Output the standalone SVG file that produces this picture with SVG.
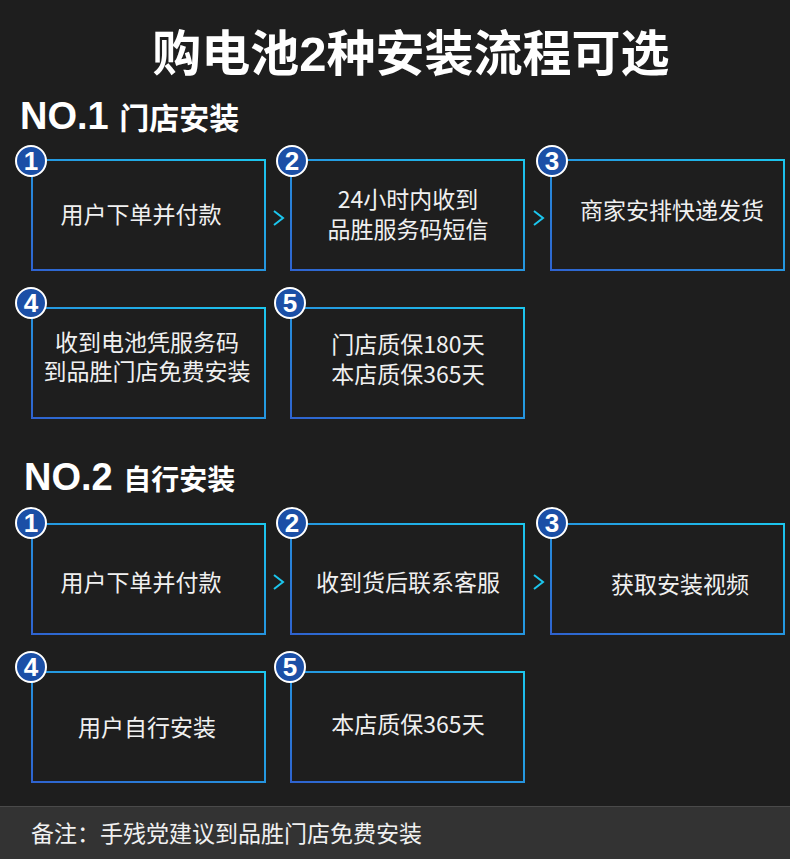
<svg xmlns="http://www.w3.org/2000/svg" width="790" height="859" viewBox="0 0 790 859">
<defs>
<linearGradient id="bd" x1="0" y1="1" x2="1" y2="0">
<stop offset="0" stop-color="#2f63d0"/>
<stop offset="1" stop-color="#1cc6ee"/>
</linearGradient>
<style>
.box{fill:none;stroke:url(#bd);stroke-width:2}
.badge{fill:#1b4fa6;stroke:#ffffff;stroke-width:2}
.num{font-family:"Liberation Sans",Arial,sans-serif;font-weight:bold;font-size:26px;fill:#fff;text-anchor:middle}
.t{font-family:"Noto Sans CJK SC","Liberation Sans",sans-serif;font-size:23px;fill:#f0f0f0;text-anchor:middle}
.arr{fill:none;stroke:#1cc6ee;stroke-width:2}
.h{font-family:"Liberation Sans","Noto Sans CJK SC",sans-serif;font-weight:bold;fill:#fff}
</style>
</defs>
<rect width="790" height="859" fill="#1e1e1e"/>
<text x="411" y="71" class="h" font-size="49" text-anchor="middle" font-family="Noto Sans CJK SC,sans-serif">购电池2种安装流程可选</text>
<text x="20" y="129" class="h" font-size="38">NO.1 <tspan font-size="30" font-family="Noto Sans CJK SC,sans-serif">门店安装</tspan></text>
<text x="24" y="490" class="h" font-size="38">NO.2 <tspan font-size="28" font-family="Noto Sans CJK SC,sans-serif">自行安装</tspan></text>

<g id="connectors">
<path class="arr" d="M274 211 L283 218 L274 225"/>
<path class="arr" d="M534 211 L543 218 L534 225"/>
<path class="arr" d="M274 575 L283 582 L274 589"/>
<path class="arr" d="M534 575 L543 582 L534 589"/>
</g>

<g id="s1n1"><rect class="box" x="32" y="160" width="233" height="110"/><circle class="badge" cx="31" cy="161" r="15"/><text class="num" x="31" y="170">1</text><text class="t" x="141" y="223">用户下单并付款</text></g>
<g id="s1n2"><rect class="box" x="291" y="160" width="233" height="110"/><circle class="badge" cx="292" cy="161" r="15"/><text class="num" x="292" y="170">2</text><text class="t" x="408" y="208">24小时内收到</text><text class="t" x="408" y="238">品胜服务码短信</text></g>
<g id="s1n3"><rect class="box" x="551" y="160" width="233" height="110"/><circle class="badge" cx="552" cy="161" r="15"/><text class="num" x="552" y="170">3</text><text class="t" x="672" y="219">商家安排快递发货</text></g>
<g id="s1n4"><rect class="box" x="32" y="308" width="233" height="110"/><circle class="badge" cx="31" cy="303" r="15"/><text class="num" x="31" y="312">4</text><text class="t" x="147" y="351">收到电池凭服务码</text><text class="t" x="147" y="380">到品胜门店免费安装</text></g>
<g id="s1n5"><rect class="box" x="291" y="308" width="233" height="110"/><circle class="badge" cx="290" cy="303" r="15"/><text class="num" x="290" y="312">5</text><text class="t" x="408" y="353">门店质保180天</text><text class="t" x="408" y="383">本店质保365天</text></g>

<g id="s2n1"><rect class="box" x="32" y="524" width="233" height="110"/><circle class="badge" cx="31" cy="523" r="15"/><text class="num" x="31" y="532">1</text><text class="t" x="141" y="591">用户下单并付款</text></g>
<g id="s2n2"><rect class="box" x="291" y="524" width="233" height="110"/><circle class="badge" cx="292" cy="523" r="15"/><text class="num" x="292" y="532">2</text><text class="t" x="408" y="591">收到货后联系客服</text></g>
<g id="s2n3"><rect class="box" x="551" y="524" width="233" height="110"/><circle class="badge" cx="552" cy="523" r="15"/><text class="num" x="552" y="532">3</text><text class="t" x="680" y="593">获取安装视频</text></g>
<g id="s2n4"><rect class="box" x="32" y="672" width="233" height="110"/><circle class="badge" cx="31" cy="667" r="15"/><text class="num" x="31" y="676">4</text><text class="t" x="147" y="736">用户自行安装</text></g>
<g id="s2n5"><rect class="box" x="291" y="672" width="233" height="110"/><circle class="badge" cx="290" cy="667" r="15"/><text class="num" x="290" y="676">5</text><text class="t" x="408" y="733">本店质保365天</text></g>

<rect x="0" y="806" width="790" height="53" fill="#333333"/>
<line x1="0" y1="806.5" x2="790" y2="806.5" stroke="#4a4a4a" stroke-width="1"/>
<text x="31" y="842" font-family="Noto Sans CJK SC,sans-serif" font-size="23" fill="#f0f0f0">备注：手残党建议到品胜门店免费安装</text>
</svg>
